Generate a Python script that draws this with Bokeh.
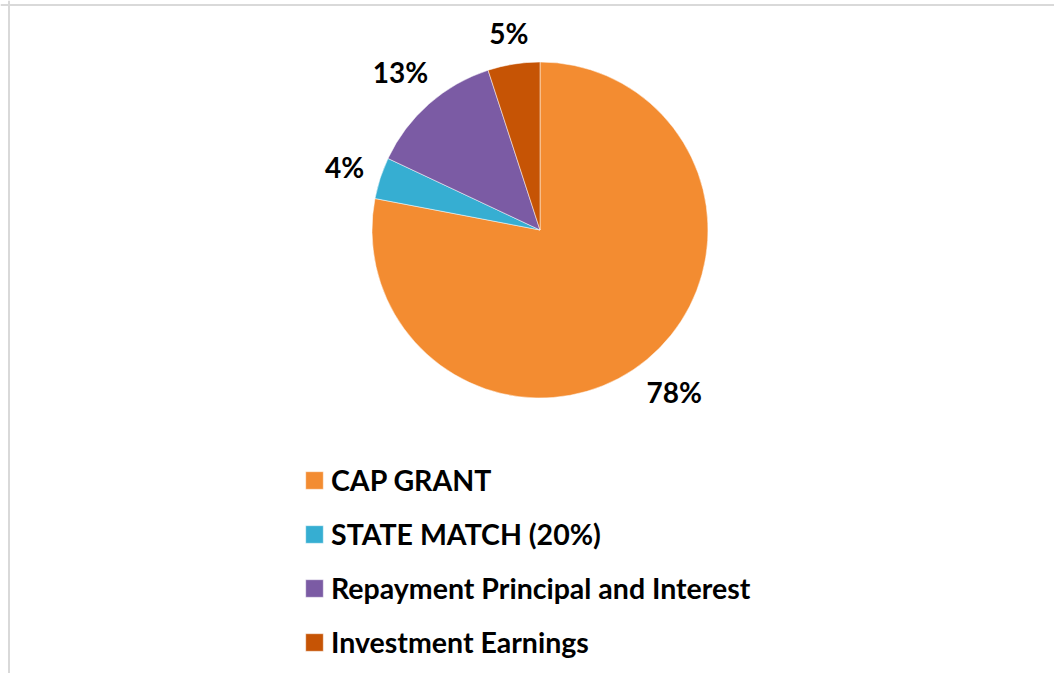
import math
from bokeh.plotting import figure
from bokeh.models import ColumnDataSource, Range1d, Legend, LegendItem, Span
from bokeh.core.properties import value
from bokeh.embed import file_html
from bokeh.resources import INLINE

categories = ["CAP GRANT", "STATE MATCH (20%)", "Repayment Principal and Interest", "Investment Earnings"]
shares = [78, 4, 13, 5]
labels = ["78%", "4%", "13%", "5%"]
colors = ["#F38C31", "#36AED2", "#7B5BA4", "#C65405"]

W, H = 1054, 673
p = figure(width=W, height=H, output_backend="svg", toolbar_location=None,
           x_range=Range1d(0, W), y_range=Range1d(0, H), min_border=0)
p.axis.visible = False
p.grid.visible = False
p.outline_line_color = None
p.background_fill_color = "white"
p.border_fill_color = "white"

cx, cy, r = 539.5, H - 229.5, 168
fs = 28
total = float(sum(shares))
starts, ends, lx, ly = [], [], [], []
a = math.pi / 2
for s, t in zip(shares, labels):
    span = 2 * math.pi * s / total
    starts.append(a)
    ends.append(a - span)
    mid = a - span / 2
    dx, dy = math.cos(mid), math.sin(mid)
    w = 0.6 * fs * len(t)
    h = 0.8 * fs
    pad = 18 + abs(dx) * w / 2 + abs(dy) * h / 2
    lx.append(cx + (r + pad) * dx)
    ly.append(cy + (r + pad) * dy)
    a -= span

src = ColumnDataSource(dict(start=starts, end=ends, color=colors, cat=categories))
wr = p.wedge(x=cx, y=cy, radius=r, start_angle="start", end_angle="end",
             direction="clock", fill_color="color", line_color="white",
             line_width=0.5, source=src)

lsrc = ColumnDataSource(dict(x=lx, y=ly, t=labels))
p.text(x="x", y="y", text="t", source=lsrc, text_font=value("Lato"),
       text_font_style="bold", text_font_size=f"{fs}px", text_color="black",
       text_align="center", text_baseline="middle")

items = [LegendItem(label=c, renderers=[wr], index=i) for i, c in enumerate(categories)]
legend = Legend(items=items, location=(303, 14), orientation="vertical",
                glyph_width=22, glyph_height=22, label_standoff=6,
                label_text_font="Lato", label_text_font_style="bold",
                label_text_font_size="28.5px", label_text_color="black",
                spacing=20, padding=0, margin=0,
                border_line_color=None, background_fill_alpha=0)
p.add_layout(legend)

p.add_layout(Span(location=H - 4.5, dimension="width", line_color="#d9d9d9", line_width=2))
p.add_layout(Span(location=8.5, dimension="height", line_color="#d9d9d9", line_width=2))

open("out.html", "w").write(file_html(p, INLINE))
